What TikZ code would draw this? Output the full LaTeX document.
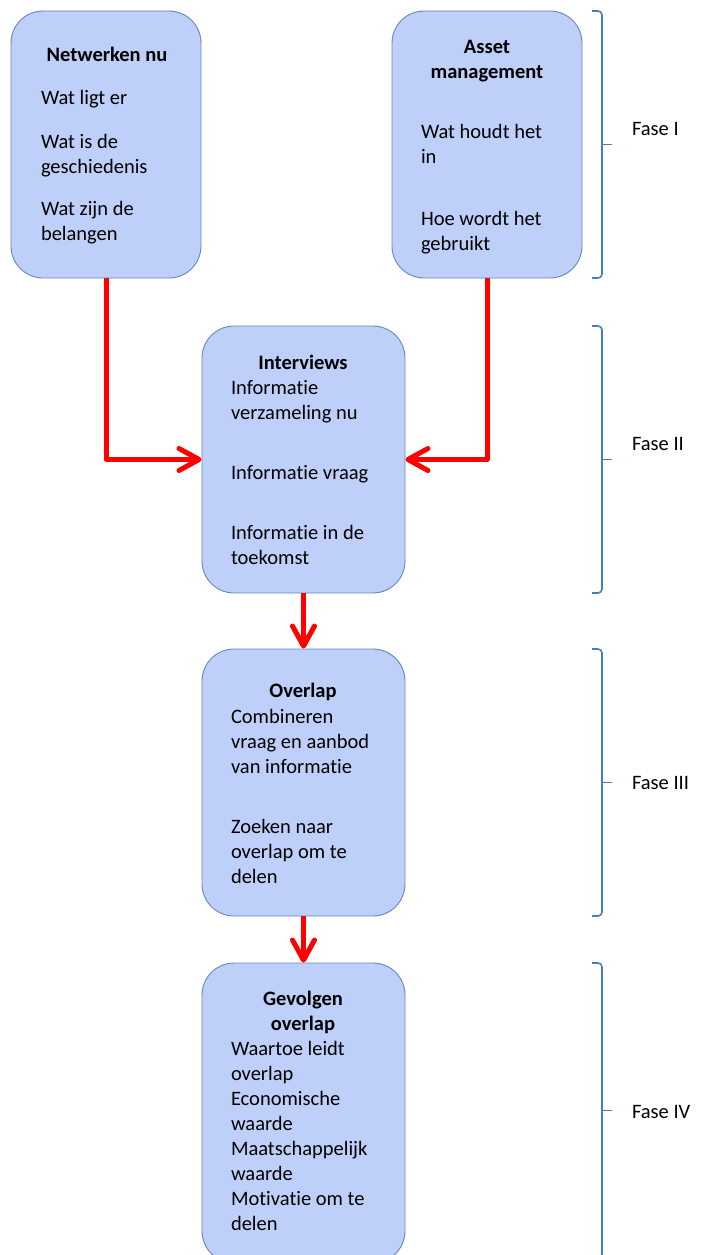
\documentclass[tikz,border=0pt]{standalone}
\usepackage{fontspec}
\setmainfont{Carlito}[RawFeature={-liga}]
\usetikzlibrary{arrows.meta}
\definecolor{boxfill}{RGB}{190,208,249}
\definecolor{boxline}{RGB}{100,135,190}
\definecolor{bracecol}{RGB}{74,126,187}
\definecolor{arrred}{RGB}{255,0,0}
\tikzset{
  box/.style={draw=boxline, fill=boxfill, line width=0.9pt, rounded corners=32pt, inner sep=0pt},
  txt/.style={inner sep=0pt, outer sep=0pt, font=\fontsize{20.5}{25}\selectfont, text=black},
  ttl/.style={txt, font=\fontsize{20.5}{25}\selectfont\bfseries},
  arr/.style={draw=arrred, line width=5pt, line join=round, -{Straight Barb[length=20pt,width=22pt,line cap=round,line join=round]}},
  bracepath/.style={draw=bracecol, line width=1.6pt, rounded corners=4pt},
}
\newcommand{\plines}[4]{% x, y first baseline, name prefix, lines
  \foreach \s [count=\i from 0] in {#4}
    \node[txt, anchor=base west] (#3\i) at (#1, #2+25*\i) {\s};
}
\newcommand{\fasebrace}[4]{% top, bottom, mid, name
  \draw[bracepath] (592,#1) -- (602,#1) -- (602,#2) -- (592,#2);
  \draw[draw=bracecol, line width=1.6pt] (602,#3) -- (612,#3);
}
\begin{document}
\begin{tikzpicture}[x=1pt,y=-1pt]
\useasboundingbox (0,0) rectangle (706,1255);
\clip (0,0) rectangle (706,1255);

% boxes
\node[box, minimum width=190pt, minimum height=267pt] (b1) at (106,144.5) {};
\node[box, minimum width=190pt, minimum height=267pt] (b2) at (487,144.5) {};
\node[box, minimum width=203pt, minimum height=267pt] (b3) at (303.5,459.5) {};
\node[box, minimum width=203pt, minimum height=267pt] (b4) at (303.5,782.5) {};
\node[box, minimum width=203pt, minimum height=300pt] (b5) at (303.5,1113) {};

% box 1
\node[ttl, anchor=base] (t1) at (107,62) {Netwerken nu};
\plines{41}{104}{p1a}{Wat ligt er}
\plines{41}{148}{p1b}{Wat is de,geschiedenis}
\plines{41}{215}{p1c}{Wat zijn de,belangen}

% box 2
\node[ttl, anchor=base] (t2a) at (487,53) {Asset};
\node[ttl, anchor=base] (t2b) at (487,78) {management};
\plines{421}{138}{p2a}{Wat houdt het,in}
\plines{421}{225}{p2b}{Hoe wordt het,gebruikt}

% box 3
\node[ttl, anchor=base] (t3) at (303,369) {Interviews};
\plines{231}{394}{p3a}{Informatie,verzameling nu}
\plines{231}{479}{p3b}{Informatie vraag}
\plines{231}{539}{p3c}{Informatie in de,toekomst}

% box 4
\node[ttl, anchor=base] (t4) at (303,697) {Overlap};
\plines{231}{723}{p4a}{Combineren,vraag en aanbod,van informatie}
\plines{231}{833}{p4b}{Zoeken naar,overlap om te,delen}

% box 5
\node[ttl, anchor=base] (t5a) at (303,1005) {Gevolgen};
\node[ttl, anchor=base] (t5b) at (303,1030) {overlap};
\plines{231}{1055}{p5a}{Waartoe leidt,overlap,Economische,waarde,Maatschappelijk,waarde,Motivatie om te,delen}

% arrows
\draw[arr] (b1.south) |- (b3.west);
\draw[arr] (b2.south) |- (b3.east);
\draw[arr] (b3.south) -- (b4.north);
\draw[arr] (b4.south) -- (b5.north);

% braces
\fasebrace{11}{278}{144.5}{br1}
\fasebrace{326}{593}{459.5}{br2}
\fasebrace{649}{916}{782.5}{br3}
\fasebrace{963}{1258}{1110.5}{br4}

\node[txt, anchor=base west] (f1) at (632,135) {Fase I};
\node[txt, anchor=base west] (f2) at (632,450) {Fase II};
\node[txt, anchor=base west] (f3) at (632,789) {Fase III};
\node[txt, anchor=base west] (f4) at (632,1118) {Fase IV};
\end{tikzpicture}
\end{document}
